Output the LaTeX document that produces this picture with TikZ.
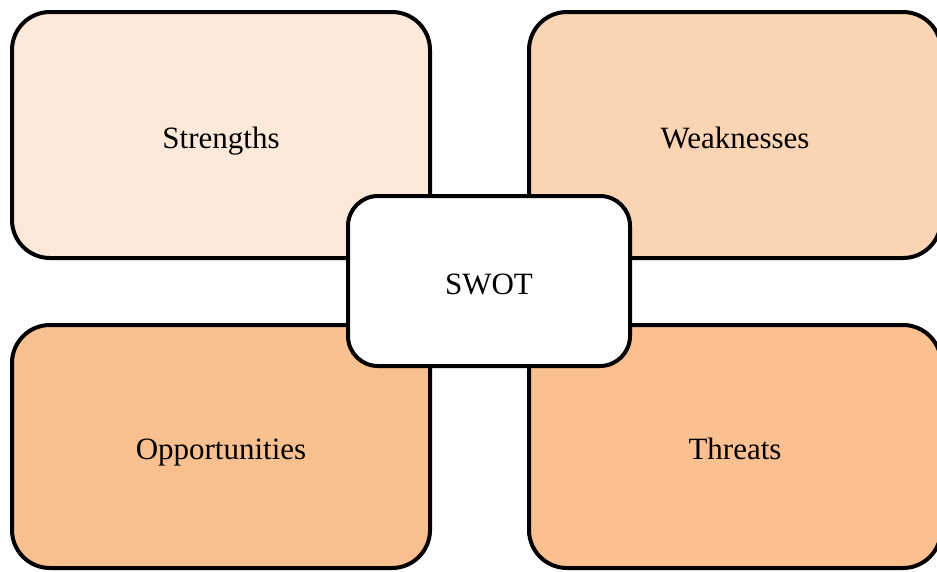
\documentclass[tikz,border=0pt]{standalone}
\usepackage{fontspec}
\setmainfont{Liberation Serif}
\definecolor{fillS}{HTML}{FDE9D9}
\definecolor{fillW}{HTML}{FBD4B4}
\definecolor{fillO}{HTML}{F9C08F}
\definecolor{fillT}{HTML}{FAC090}
\begin{document}
\begin{tikzpicture}[x=1pt,y=-1pt,
  label text/.style={font=\fontsize{31}{36}\selectfont, text height=30pt, text depth=4pt},
  quad/.style={draw=black, line width=4pt, rounded corners=38pt,
    minimum width=418pt, minimum height=246pt, inner sep=0pt, label text},
  core/.style={draw=black, fill=white, line width=4pt, rounded corners=30pt,
    minimum width=282pt, minimum height=170pt, inner sep=0pt, label text}]
  \useasboundingbox (0,0) rectangle (937,571);
  % four quadrants
  \node[quad, fill=fillS] (S) at (221,135) {Strengths};
  \node[quad, fill=fillW, minimum width=412pt] (W) at (735,135) {Weaknesses};
  \node[quad, fill=fillO, minimum height=243pt] (O) at (221,446.5) {Opportunities};
  \node[quad, fill=fillT, minimum width=412pt, minimum height=243pt] (T) at (735,446.5) {Threats};
  % central box on top
  \node[core] (C) at (489,281) {SWOT};
\end{tikzpicture}
\end{document}
